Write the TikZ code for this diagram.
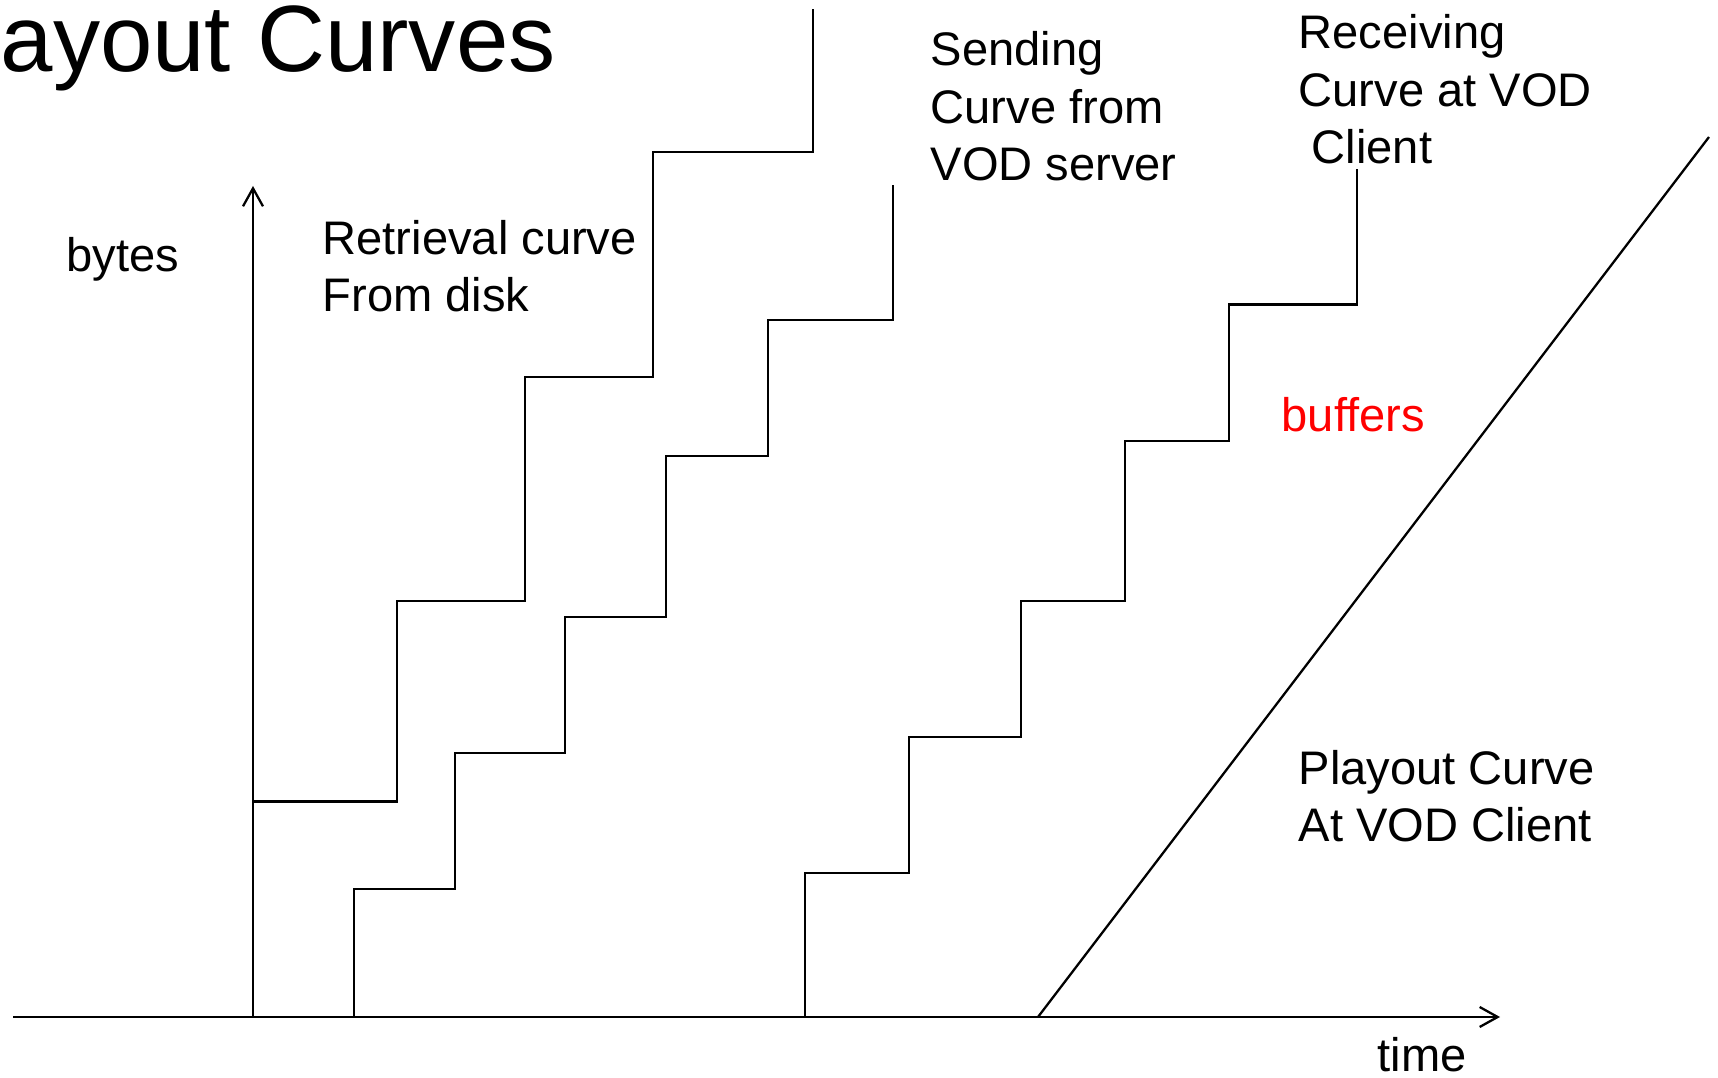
\documentclass[tikz,border=0pt]{standalone}
\usepackage{fontspec}
\setmainfont{Liberation Sans}
\usetikzlibrary{arrows.meta}

\tikzset{
	stair/.style={line width=0.65pt},
	txt/.style={anchor=base west, inner sep=0pt, align=left,
		font=\fontsize{13.4}{16.4}\selectfont},
}

\begin{document}
\begin{tikzpicture}[>={Straight Barb[length=1.8mm,width=2mm]}]
	\useasboundingbox (0,0) rectangle (17.18,10.78);
	\draw (0,10.06) node[txt,font=\fontsize{26.8}{30}\selectfont] (title) {ayout Curves};
	\draw[stair,->] (0.13,0.61) -- (15.00,0.61);
	\draw[stair,->] (2.53,0.61) -- (2.53,8.92);
	\draw[stair] (2.53,0.61) -- (2.53,2.765) -- (3.97,2.765) -- (3.97,4.77) -- (5.25,4.77)
		-- (5.25,7.01) -- (6.53,7.01) -- (6.53,9.26) -- (8.13,9.26) -- (8.13,10.69);
	\draw[stair] (2.53,0.61) -- (3.54,0.61) -- (3.54,1.89) -- (4.55,1.89) -- (4.55,3.25)
		-- (5.65,3.25) -- (5.65,4.61) -- (6.66,4.61) -- (6.66,6.22) -- (7.68,6.22)
		-- (7.68,7.58) -- (8.93,7.58) -- (8.93,8.93);
	\draw[stair] (7.01,0.61) -- (8.05,0.61) -- (8.05,2.05) -- (9.09,2.05) -- (9.09,3.41)
		-- (10.21,3.41) -- (10.21,4.77) -- (11.25,4.77) -- (11.25,6.37) -- (12.29,6.37)
		-- (12.29,7.735) -- (13.57,7.735) -- (13.57,9.09);
	\draw[stair] (10.38,0.61) -- (17.09,9.41);
	\draw (0.66,8.06) node[txt] (bytes) {bytes};
	\draw (3.22,7.66) node[txt] (retr) {Retrieval curve\\From disk};
	\draw (9.30,8.97) node[txt] (send) {Sending\\Curve from\\VOD server};
	\draw (12.98,9.14) node[txt] (recv) {Receiving\\Curve at VOD\\\ Client};
	\draw (12.81,6.46) node[txt,text=red] (buf) {buffers};
	\draw (12.98,2.36) node[txt] (play) {Playout Curve\\At VOD Client};
	\draw (13.77,0.06) node[txt] (time) {time};
\end{tikzpicture}
\end{document}
